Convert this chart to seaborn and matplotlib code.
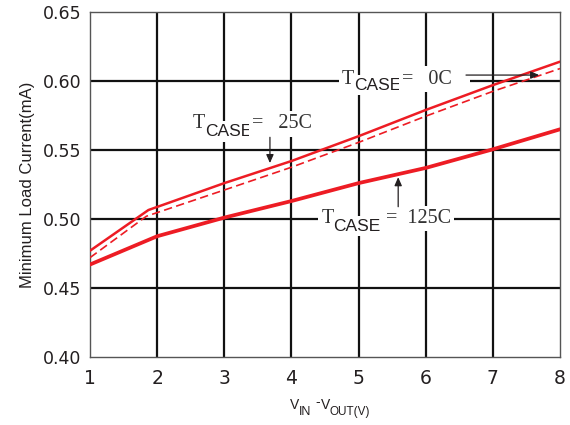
import matplotlib
matplotlib.use("Agg")
import matplotlib.pyplot as plt
import seaborn as sns
import pandas as pd

# ---- data ----
vdiff_0c = [1, 1.87, 3, 4, 5, 6, 7, 8]
current_0c = [0.477, 0.5065, 0.526, 0.542, 0.560, 0.579, 0.597, 0.614]

vdiff_25c = [1, 1.84, 3, 4, 5, 6, 7, 8]
current_25c = [0.472, 0.502, 0.521, 0.5375, 0.5555, 0.5745, 0.5925, 0.609]

vdiff_125c = [1, 2, 3, 4, 5, 6, 7, 8]
current_125c = [0.467, 0.4875, 0.501, 0.513, 0.526, 0.537, 0.5505, 0.565]

x_ticks = [1, 2, 3, 4, 5, 6, 7, 8]
y_ticks = [0.40, 0.45, 0.50, 0.55, 0.60, 0.65]
y_tick_labels = ["0.40", "0.45", "0.50", "0.55", "0.60", "0.65"]
y_label = "Minimum Load Current(mA)"

# arrow annotations (tail -> tip, data coords)
arrow_0c = ((6.60, 0.6043), (7.69, 0.6043))
arrow_25c = ((3.68, 0.5592), (3.68, 0.5405))
arrow_125c = ((5.59, 0.5089), (5.59, 0.5303))

RED = "#ED1C24"
INK = "#231f20"
SERIF_INK = "#333333"

sns.set_theme(style="white")
plt.rcParams["font.family"] = ["DejaVu Sans"]

W, H = 570, 425
fig = plt.figure(figsize=(W / 100, H / 100), dpi=100)
ax = fig.add_axes([90 / W, (H - 357) / H, 470 / W, 345 / H])

df0 = pd.DataFrame({"v": vdiff_0c, "i": current_0c})
df25 = pd.DataFrame({"v": vdiff_25c, "i": current_25c})
df125 = pd.DataFrame({"v": vdiff_125c, "i": current_125c})

sns.lineplot(data=df0, x="v", y="i", ax=ax, color=RED, lw=1.8,
             errorbar=None, sort=False, zorder=3)
sns.lineplot(data=df25, x="v", y="i", ax=ax, color=RED, lw=1.2,
             linestyle=(0, (5.0, 2.6)), errorbar=None, sort=False, zorder=3)
sns.lineplot(data=df125, x="v", y="i", ax=ax, color=RED, lw=2.7,
             errorbar=None, sort=False, zorder=3)

ax.set_xlim(x_ticks[0], x_ticks[-1])
ax.set_ylim(y_ticks[0], y_ticks[-1])
ax.set_xticks(x_ticks)
ax.set_xticklabels([str(v) for v in x_ticks])
ax.set_yticks(y_ticks)
ax.set_yticklabels(y_tick_labels)
ax.tick_params(axis="both", length=0, colors=INK)
ax.tick_params(axis="y", labelsize=12.5, pad=6)
ax.tick_params(axis="x", labelsize=13.5, pad=9)
ax.set_xlabel("")
ax.set_ylabel(y_label, fontsize=12, color=INK, family="Liberation Sans")
ax.yaxis.set_label_coords(-0.117, 0.4986)

ax.grid(True, color="#111111", lw=1.6, zorder=1)
ax.set_axisbelow(True)
xg = ax.xaxis.get_gridlines()
yg = ax.yaxis.get_gridlines()
for g in (xg[0], xg[-1], yg[0], yg[-1]):
    g.set_visible(False)
for s in ax.spines.values():
    s.set_color("#555555")
    s.set_linewidth(1.0)

# arrows
for (tail, tip) in (arrow_0c, arrow_25c, arrow_125c):
    ax.annotate("", xy=tip, xytext=tail, xycoords="data",
                arrowprops=dict(arrowstyle="-|>,head_length=0.5,head_width=0.22",
                                color=INK, lw=0.9, mutation_scale=10,
                                shrinkA=0, shrinkB=0), zorder=4)

# composite labels (figure pixel positions of left edge / baseline)
box = dict(boxstyle="square,pad=0.15", fc="white", ec="none")


def ftext(px, py, s, fam, size, color=SERIF_INK):
    ax.text(px / W, 1 - py / H, s, transform=fig.transFigure, ha="left",
            va="baseline", family=fam, fontsize=size, color=color,
            bbox=box, zorder=2.5)


SER, SAN = "Liberation Serif", "Liberation Sans"
SS, SA = 14.5, 12.5

# T_CASE = 0C
ftext(342, 83.5, "T", SER, SS)
ftext(354, 89.5, "CASE", SAN, SA, INK)
ftext(402.5, 83.5, "=   0C   ", SER, SS)

# T_CASE = 25C
ftext(193, 128.5, "T", SER, SS)
ftext(205, 136, "CASE", SAN, SA, INK)
ftext(252.5, 128.5, "=   25C", SER, SS)

# T_CASE = 125C
ftext(321.5, 223, "T", SER, SS)
ftext(333, 230.7, "CASE", SAN, SA, INK)
ftext(386, 223, "=  125C", SER, SS)

# x-axis label V_IN - V_OUT(V)
def xl(px, py, s, size):
    fig.text(px / W, 1 - py / H, s, ha="left", va="baseline",
             family=SAN, fontsize=size, color=INK)


xl(290, 409, "V", 10)
xl(299, 415, "IN", 9)
xl(315, 406.5, "-", 10)
xl(320.5, 409, "V", 10)
xl(329.3, 415, "OUT(V)", 8.5)

fig.savefig("out.png", dpi=100)
